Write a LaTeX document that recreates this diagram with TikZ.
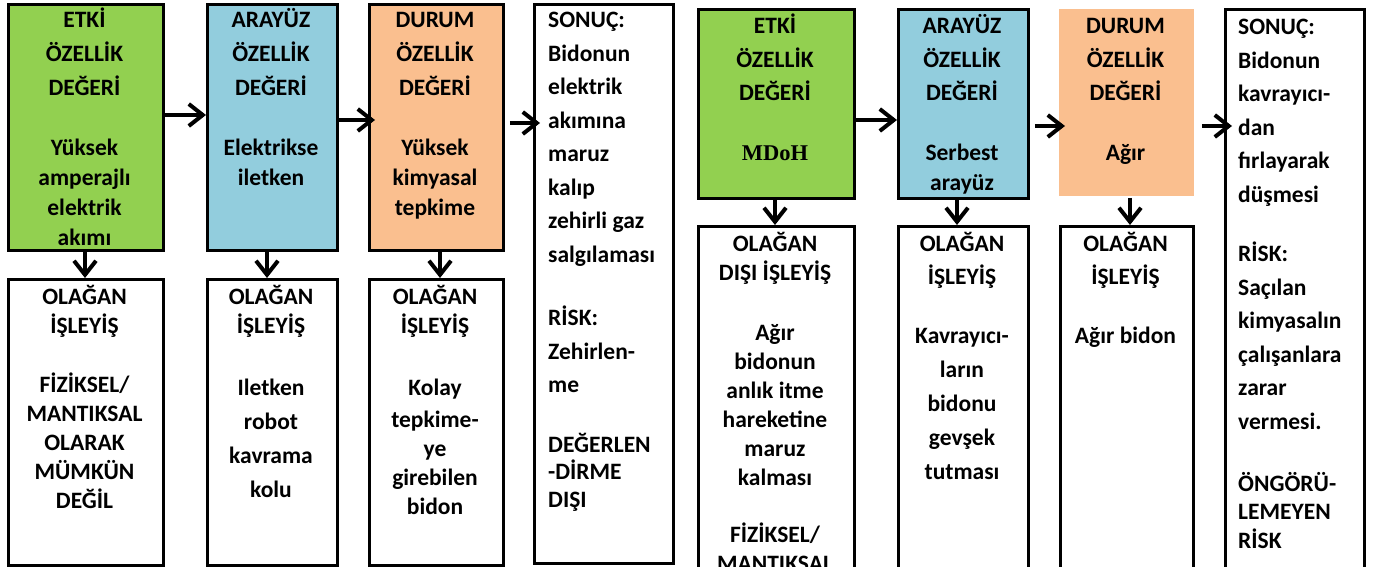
\documentclass[tikz,border=0pt]{standalone}
\usepackage{fontspec}
\setmainfont{Carlito}
\newfontfamily\mdohfont{Liberation Serif}
\usetikzlibrary{arrows.meta}
\definecolor{cgreen}{RGB}{146,208,80}
\definecolor{cblue}{RGB}{146,205,221}
\definecolor{corange}{RGB}{250,191,143}
\tikzset{
  box/.style={draw=black, line width=2.8pt, inner sep=0pt, anchor=north west},
  txt/.style={inner sep=0pt, anchor=north, align=flush center},
  ltxt/.style={inner sep=0pt, anchor=north west, align=flush left},
  arr/.style={line width=4pt, -{Straight Barb[length=14pt,width=22pt]}},
}
\newcommand\fs[1]{\fontsize{23.5}{#1}\selectfont\bfseries}
\begin{document}
\begin{tikzpicture}[x=1pt,y=-1pt]
\useasboundingbox (0,0) rectangle (1378,567);
\clip (0,0) rectangle (1378,567);
\fill[white] (0,0) rectangle (1378,567);

% ---------- left chain ----------
\node[box, fill=cgreen,  minimum width=155pt, minimum height=246pt] (e1) at (7,3) {};
\node[box, fill=cblue,   minimum width=130pt, minimum height=246pt] (a1) at (206,3) {};
\node[box, fill=corange, minimum width=134pt, minimum height=246pt] (d1) at (368,3) {};
\node[box, minimum width=139pt, minimum height=559pt] (s1) at (533,3) {};
\node[box, minimum width=155pt, minimum height=286pt] (o1) at (7,278) {};
\node[box, minimum width=130pt, minimum height=286pt] (o2) at (206,278) {};
\node[box, minimum width=134pt, minimum height=286pt] (o3) at (368,278) {};

\node[txt, text width=150pt, font=\fs{30}] (e1t) at (84.5,6.5)
  {\strut ETKİ\\[4pt]ÖZELLİK\\[4pt]DEĞERİ\\[30pt]Yüksek\\amperajlı\\elektrik\\akımı};
\node[txt, text width=126pt, font=\fs{30}] (a1t) at (271,6.5)
  {\strut ARAYÜZ\\[4pt]ÖZELLİK\\[4pt]DEĞERİ\\[30pt]Elektrikse\\iletken};
\node[txt, text width=130pt, font=\fs{30}] (d1t) at (435,6.5)
  {\strut DURUM\\[4pt]ÖZELLİK\\[4pt]DEĞERİ\\[30pt]Yüksek\\kimyasal\\tepkime};
\node[ltxt, text width=122pt, font=\fs{33.5}] (s1t) at (548,4.1)
  {\strut SONUÇ:\\Bidonun\\elektrik\\akımına\\maruz\\kalıp\\zehirli gaz\\salgılaması\\[30pt]RİSK:\\Zehirlen-\\me\\[26.5pt]DEĞERLEN\\[-6.5pt]-DİRME\\[-5.5pt]DIŞI};
\node[txt, text width=150pt, font=\fs{29}] (o1t) at (84.5,284.2)
  {\strut OLAĞAN\\İŞLEYİŞ\\[30pt]FİZİKSEL/\\MANTIKSAL\\OLARAK\\MÜMKÜN\\DEĞİL};
\node[txt, text width=126pt, font=\fs{29}] (o2t) at (271,284.2)
  {\strut OLAĞAN\\İŞLEYİŞ\\[33pt]Iletken\\[5pt]robot\\[5pt]kavrama\\[5pt]kolu};
\node[txt, text width=130pt, font=\fs{29}] (o3t) at (435,284.2)
  {\strut OLAĞAN\\İŞLEYİŞ\\[33pt]Kolay\\[3pt]tepkime-\\ye\\girebilen\\bidon};

\draw[arr] (e1.east |- 0,115) -- (a1.west |- 0,115);
\draw[arr, shorten >=-7pt] (a1.east |- 0,120) -- (d1.west |- 0,120);
\draw[arr, shorten <=5pt, shorten >=-7pt] (d1.east |- 0,123) -- (s1.west |- 0,123);
\draw[arr] (e1.south -| 85,0) -- (o1.north -| 85,0);
\draw[arr] (a1.south -| 267,0) -- (o2.north -| 267,0);
\draw[arr] (d1.south -| 440,0) -- (o3.north -| 440,0);

% ---------- right chain ----------
\node[box, fill=cgreen,  minimum width=156pt, minimum height=189pt] (e2) at (697,8) {};
\node[box, fill=cblue,   minimum width=130pt, minimum height=189pt] (a2) at (897,8) {};
\node[box, draw=none, fill=corange, minimum width=135pt, minimum height=187pt] (d2) at (1058,8) {};
\node[box, minimum width=139pt, minimum height=580pt] (s2) at (1224,8) {};
\node[box, minimum width=156pt, minimum height=360pt] (o4) at (697,225) {};
\node[box, minimum width=130pt, minimum height=360pt] (o5) at (897,225) {};
\node[box, minimum width=133pt, minimum height=360pt] (o6) at (1059,225) {};

\node[txt, text width=150pt, font=\fs{30}] (e2t) at (775,12.5)
  {\strut ETKİ\\[4pt]ÖZELLİK\\[3pt]DEĞERİ\\[30pt]{\mdohfont\fontsize{22.5}{30}\selectfont\bfseries MDoH}};
\node[txt, text width=126pt, font=\fs{30}] (a2t) at (962,12.5)
  {\strut ARAYÜZ\\[4pt]ÖZELLİK\\[3pt]DEĞERİ\\[30pt]Serbest\\arayüz};
\node[txt, text width=130pt, font=\fs{30}] (d2t) at (1125.5,12.5)
  {\strut DURUM\\[4pt]ÖZELLİK\\[3pt]DEĞERİ\\[30pt]Ağır};
\node[ltxt, text width=124pt, font=\fs{33.5}] (s2t) at (1238,11.1)
  {\strut SONUÇ:\\Bidonun\\kavrayıcı-\\dan\\fırlayarak\\düşmesi\\[26pt]RİSK:\\Saçılan\\kimyasalın\\çalışanlara\\zarar\\vermesi.\\[29pt]ÖNGÖRÜ-\\[-5.5pt]LEMEYEN\\[-4.5pt]RİSK};
\node[txt, text width=152pt, font=\fs{29}] (o4t) at (775,231.2)
  {\strut OLAĞAN\\DIŞI İŞLEYİŞ\\[31pt]Ağır\\bidonun\\anlık itme\\hareketine\\maruz\\kalması\\[28pt]FİZİKSEL/\\MANTIKSAL};
\node[txt, text width=126pt, font=\fs{34}] (o5t) at (962,227.7)
  {\strut OLAĞAN\\[-1pt]İŞLEYİŞ\\[25pt]Kavrayıcı-\\ların\\bidonu\\gevşek\\tutması};
\node[txt, text width=129pt, font=\fs{34}] (o6t) at (1125.5,227.7)
  {\strut OLAĞAN\\[-1pt]İŞLEYİŞ\\[25pt]Ağır bidon};

\draw[arr] (e2.east |- 0,120) -- (a2.west |- 0,120);
\draw[arr, shorten <=5pt, shorten >=-7pt] (a2.east |- 0,126) -- (d2.west |- 0,126);
\draw[arr, shorten <=6pt, shorten >=-8pt] (d2.east |- 0,126) -- (s2.west |- 0,126);
\draw[arr] (e2.south -| 775,0) -- (o4.north -| 775,0);
\draw[arr] (a2.south -| 957,0) -- (o5.north -| 957,0);
\draw[arr] (d2.south -| 1130,0) -- (o6.north -| 1130,0);
\end{tikzpicture}
\end{document}
